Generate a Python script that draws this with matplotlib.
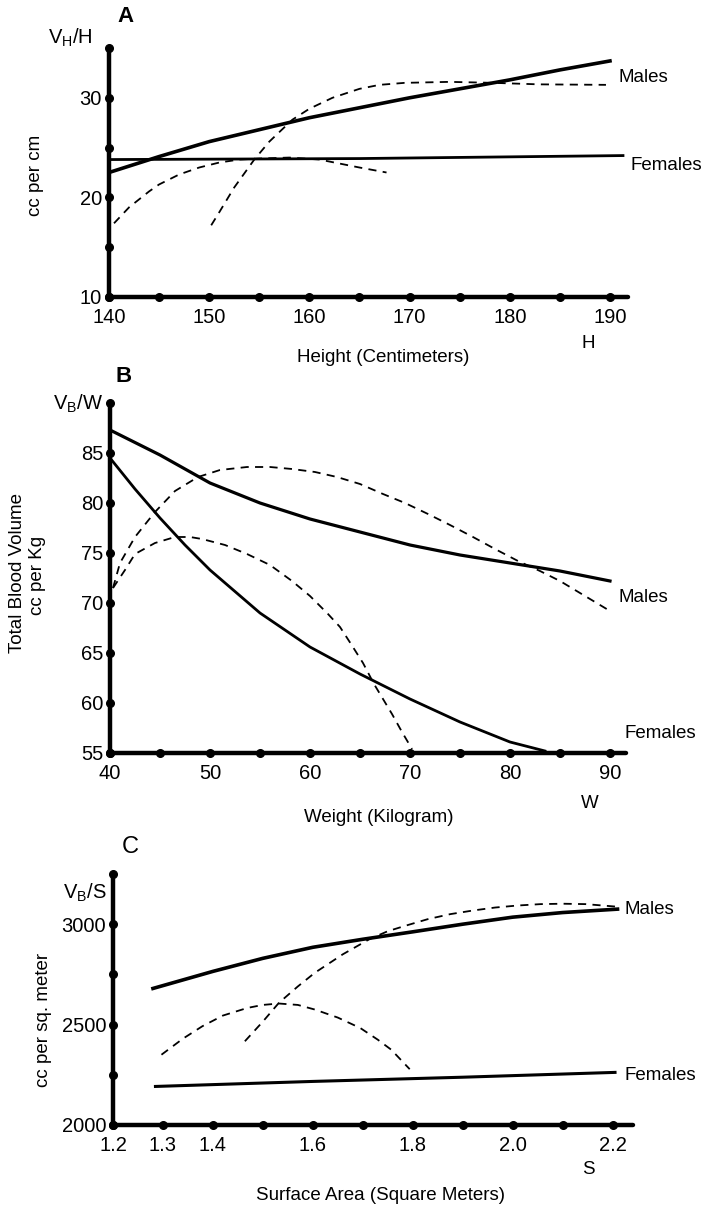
import numpy as np
import matplotlib
matplotlib.use('Agg')
import matplotlib.pyplot as plt

plt.rcParams['font.family'] = ['Liberation Sans', 'DejaVu Sans']
plt.rcParams['mathtext.fontset'] = 'custom'
plt.rcParams['mathtext.rm'] = 'Liberation Sans'

# ---- panel A: blood volume per cm of height ----
a_xdots = [140, 145, 150, 155, 160, 165, 170, 175, 180, 185, 190]
a_xlabels = [140, 150, 160, 170, 180, 190]
a_ydots = [10, 15, 20, 25, 30, 35]
a_ylabels = [10, 20, 30]
a_male_x = [140, 145, 150, 155, 160, 165, 170, 175, 180, 185, 190]
a_male_y = [22.5, 24.1, 25.6, 26.8, 28.0, 29.0, 30.0, 30.9, 31.8, 32.8, 33.7]
a_female_x = [140, 165, 191.3]
a_female_y = [23.8, 23.9, 24.2]
a_fdash_x = [140.5, 142, 144, 145, 147, 149, 151, 153, 155, 158, 161, 163, 165, 167.7]
a_fdash_y = [17.4, 19.0, 20.6, 21.3, 22.3, 23.0, 23.5, 23.8, 23.9, 24.0, 23.8, 23.4, 23.0, 22.5]
a_mdash_x = [150.2, 151, 152.5, 154.5, 156, 158.3, 160, 162.3, 165, 167, 169.5, 174, 178.4, 182.9, 189.6]
a_mdash_y = [17.2, 18.5, 21.0, 23.8, 25.6, 27.8, 28.9, 30.0, 30.9, 31.3, 31.5, 31.6, 31.5, 31.35, 31.3]

# ---- panel B: blood volume per kg ----
b_xdots = [40, 45, 50, 55, 60, 65, 70, 75, 80, 85, 90]
b_xlabels = [40, 50, 60, 70, 80, 90]
b_ydots = [55, 60, 65, 70, 75, 80, 85, 90]
b_ylabels = [55, 60, 65, 70, 75, 80, 85]
b_male_x = [40, 45, 50, 55, 60, 65, 70, 75, 80, 85, 90]
b_male_y = [87.3, 84.8, 82.0, 80.0, 78.4, 77.1, 75.8, 74.8, 74.0, 73.2, 72.2]
b_female_x = [40, 42.5, 45, 47.5, 50, 55, 60, 65, 70, 75, 80, 83.5]
b_female_y = [84.5, 81.4, 78.5, 75.8, 73.3, 69.0, 65.6, 62.9, 60.4, 58.1, 56.1, 55.2]
b_mdash_x = [40.3, 41, 42.5, 44.5, 46.5, 48.8, 51, 53.7, 56, 58.2, 60.5, 62.7, 65, 67.3,
             69.5, 71.8, 74, 76.3, 78.5, 80.8, 83, 85, 87, 90]
b_mdash_y = [71.5, 74.0, 76.6, 79.1, 81.2, 82.6, 83.3, 83.6, 83.6, 83.4, 83.1, 82.6, 81.9, 80.9,
             80.0, 78.9, 77.8, 76.6, 75.4, 74.2, 73.2, 72.2, 71.0, 69.2]
b_fdash_x = [40.3, 41.5, 42.5, 44.5, 46.5, 48, 49.2, 51.5, 53.7, 56, 58.2, 60, 61.8, 63,
             64.1, 65.3, 66.4, 67.3, 68.2, 69.2, 70.2]
b_fdash_y = [71.5, 73.3, 74.9, 76.0, 76.6, 76.6, 76.4, 75.8, 74.9, 73.8, 72.2, 70.7, 68.9, 67.6,
             65.9, 64.0, 61.9, 60.4, 58.9, 57.1, 55.4]

# ---- panel C: blood volume per sq. meter ----
c_xdots = [1.2, 1.3, 1.4, 1.5, 1.6, 1.7, 1.8, 1.9, 2.0, 2.1, 2.2]
c_xlabels = ['1.2', '1.3', '1.4', '1.6', '1.8', '2.0', '2.2']
c_ydots = [2000, 2250, 2500, 2750, 3000, 3250]
c_ylabels = [2000, 2500, 3000]
c_male_x = [1.28, 1.4, 1.5, 1.6, 1.7, 1.8, 1.9, 2.0, 2.1, 2.21]
c_male_y = [2680, 2765, 2830, 2885, 2925, 2962, 3000, 3035, 3058, 3075]
c_female_x = [1.285, 1.6, 1.9, 2.205]
c_female_y = [2192, 2217, 2238, 2262]
c_fdash_x = [1.297, 1.34, 1.379, 1.42, 1.469, 1.50, 1.532, 1.57, 1.604, 1.65, 1.695, 1.73, 1.757, 1.794]
c_fdash_y = [2350, 2430, 2492, 2545, 2583, 2598, 2605, 2598, 2575, 2535, 2483, 2425, 2375, 2278]
c_mdash_x = [1.464, 1.50, 1.532, 1.57, 1.604, 1.66, 1.713, 1.75, 1.785, 1.83, 1.875, 1.92,
             1.965, 2.01, 2.056, 2.10, 2.146, 2.205]
c_mdash_y = [2417, 2515, 2608, 2690, 2758, 2850, 2925, 2965, 2992, 3025, 3050, 3068,
             3083, 3093, 3100, 3102, 3100, 3088]

W, H = 705, 1211
fig = plt.figure(figsize=(W / 100, H / 100), dpi=100)
narrow = ['Liberation Sans Narrow', 'Liberation Sans', 'DejaVu Sans']


def px_axes(left, right, top, bottom):
    return fig.add_axes([left / W, 1 - bottom / H, (right - left) / W, (bottom - top) / H])


def ftext(x, y, s, **kw):
    kw.setdefault('fontsize', 13.5)
    kw.setdefault('va', 'center')
    fig.text(x / W, 1 - y / H, s, **kw)


def panel(ax, xlim, ylim, xdots, ydots, xticks, xticklabels, yticks):
    ax.set_xlim(*xlim)
    ax.set_ylim(*ylim)
    for s in ['top', 'right']:
        ax.spines[s].set_visible(False)
    for s in ['left', 'bottom']:
        ax.spines[s].set_linewidth(3.2)
        ax.spines[s].set_capstyle('round')
    ax.plot(xdots, [ylim[0]] * len(xdots), 'o', color='black', ms=5.5, clip_on=False, zorder=5)
    ax.plot([xlim[0]] * len(ydots), ydots, 'o', color='black', ms=5.5, clip_on=False, zorder=5)
    ax.set_xticks(xticks)
    ax.set_xticklabels(xticklabels)
    ax.set_yticks(yticks)
    ax.tick_params(length=0, labelsize=14.5, pad=8)
    ax.tick_params(axis='y', pad=5)
    for lab in ax.get_xticklabels() + ax.get_yticklabels():
        lab.set_family(narrow)
    ax.patch.set_alpha(0)


dash = dict(color='black', lw=1.3, ls=(0, (4.5, 3.5)))

# panel A
axA = px_axes(109, 628, 48, 297)
panel(axA, (140, 191.8), (10, 35), a_xdots, a_ydots, a_xlabels, a_xlabels, a_ylabels)
axA.plot(a_male_x, a_male_y, color='black', lw=2.6)
axA.plot(a_female_x, a_female_y, color='black', lw=2.0)
axA.plot(a_fdash_x, a_fdash_y, **dash)
axA.plot(a_mdash_x, a_mdash_y, **dash)

# panel B
axB = px_axes(110, 626, 404, 753)
panel(axB, (40, 91.6), (55, 89.9), b_xdots, b_ydots, b_xlabels, b_xlabels, b_ylabels)
axB.plot(b_male_x, b_male_y, color='black', lw=2.3)
axB.plot(b_female_x, b_female_y, color='black', lw=2.0)
axB.plot(b_mdash_x, b_mdash_y, **dash)
axB.plot(b_fdash_x, b_fdash_y, **dash)

# panel C
axC = px_axes(113, 633, 874, 1125)
panel(axC, (1.2, 2.241), (2000, 3250), c_xdots, c_ydots,
      [float(v) for v in c_xlabels], c_xlabels, c_ylabels)
axC.plot(c_male_x, c_male_y, color='black', lw=2.6)
axC.plot(c_female_x, c_female_y, color='black', lw=2.2)
axC.plot(c_fdash_x, c_fdash_y, **dash)
axC.plot(c_mdash_x, c_mdash_y, **dash)

# panel letters
ftext(126, 17, 'A', fontsize=16, fontweight='bold', ha='center')
ftext(124, 376, 'B', fontsize=16, fontweight='bold', ha='center')
ftext(130, 847, 'C', fontsize=17, ha='center')

# quantity labels at the top of each y axis
ftext(93, 38, r'V$_{\mathregular{H}}$/H', ha='right', family=narrow, fontsize=14.5)
ftext(103, 404, r'V$_{\mathregular{B}}$/W', ha='right', family=narrow, fontsize=14.5)
ftext(107, 893, r'V$_{\mathregular{B}}$/S', ha='right', family=narrow, fontsize=14.5)

# y axis titles
ftext(36, 175, 'cc per cm', rotation=90, ha='center')
ftext(18, 573, 'Total Blood Volume', rotation=90, ha='center')
ftext(38, 575, 'cc per Kg', rotation=90, ha='center')
ftext(43, 1020, 'cc per sq. meter', rotation=90, ha='center')

# x axis titles
ftext(588, 343, 'H', ha='center')
ftext(383, 358, 'Height (Centimeters)', ha='center')
ftext(590, 803, 'W', ha='center')
ftext(379, 817, 'Weight (Kilogram)', ha='center')
ftext(588, 1170, 'S', ha='center')
ftext(380, 1195, 'Surface Area (Square Meters)', ha='center')

# series labels
ftext(619, 78, 'Males')
ftext(631, 165, 'Females')
ftext(619, 597, 'Males')
ftext(624, 733, 'Females')
ftext(624, 910, 'Males')
ftext(624, 1075, 'Females')

fig.savefig('out.png', dpi=100)
